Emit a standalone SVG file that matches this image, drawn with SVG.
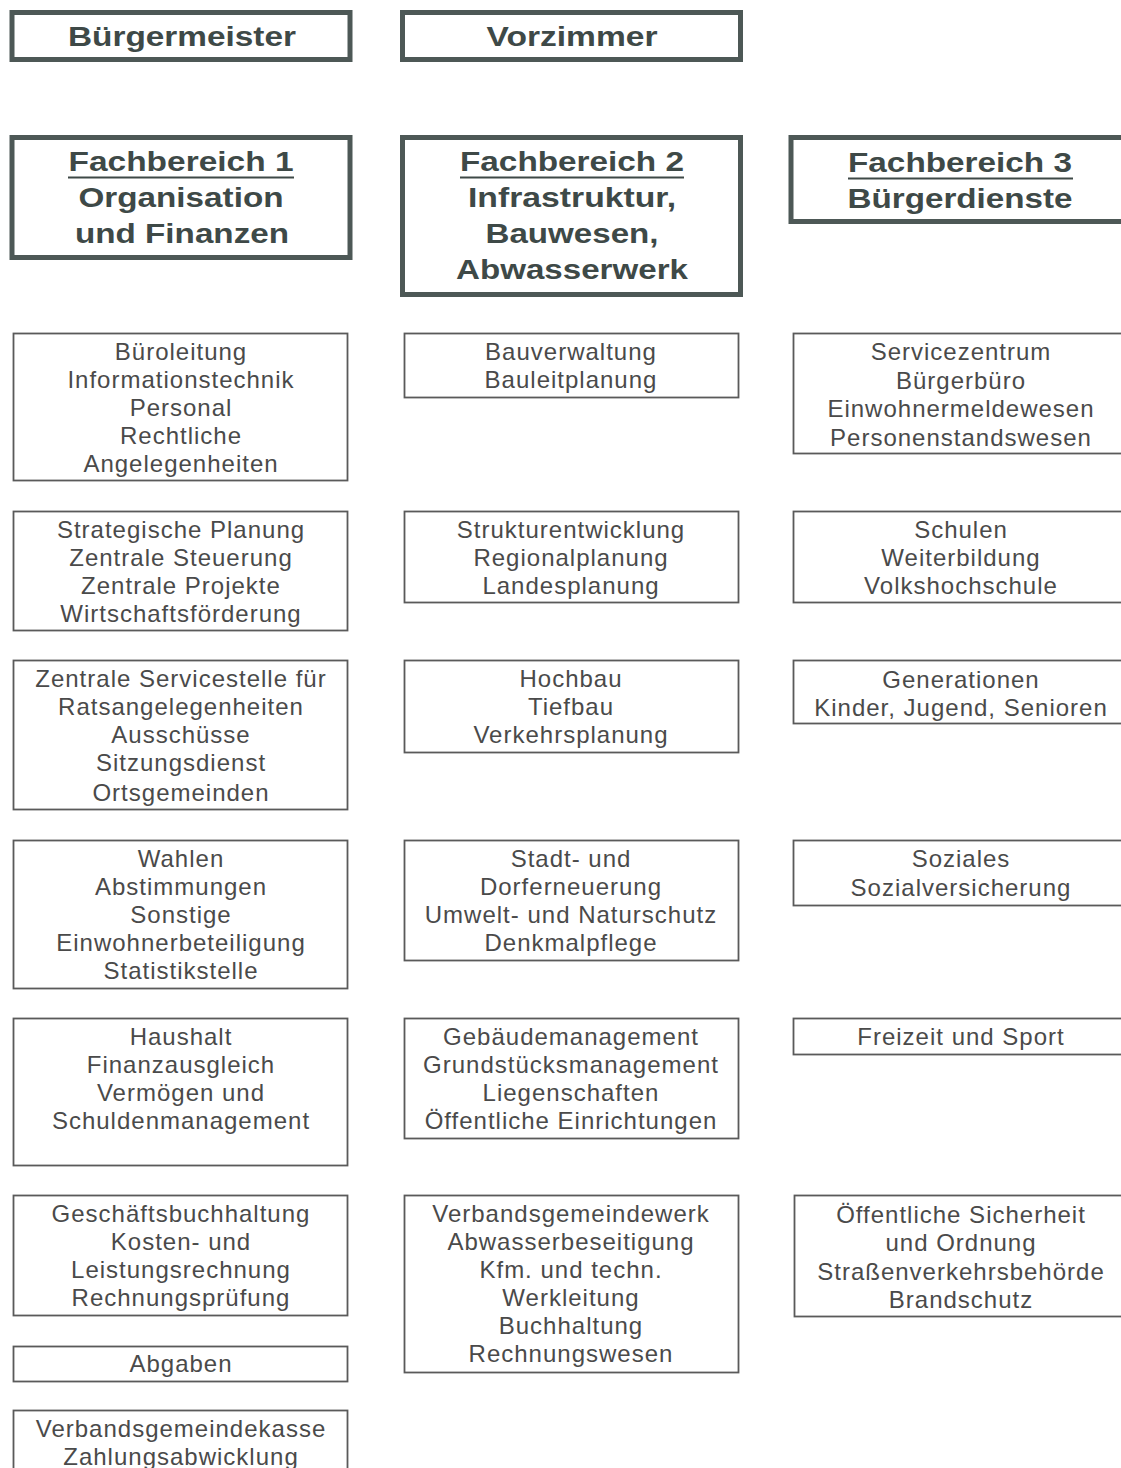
<svg xmlns="http://www.w3.org/2000/svg" width="1121" height="1468" viewBox="0 0 1121 1468">
<style>
.hb{fill:#fff;stroke:#4d5856;stroke-width:5}
.bb{fill:#fff;stroke:#5a5a5a;stroke-width:1.8}
.ht{font-family:"Liberation Sans",Arial,sans-serif;font-weight:bold;font-size:28px;fill:#3e4947;text-anchor:middle}
.bt{font-family:"Liberation Sans",Arial,sans-serif;font-size:24px;letter-spacing:1px;fill:#4a4a4a;text-anchor:middle}
.ul{stroke:#3e4947;stroke-width:2.2}
</style>
<rect width="1121" height="1468" fill="#fff"/>
<g id="buergermeister"><rect class="hb" x="12" y="12.5" width="338" height="47"/><text class="ht" x="182" y="46" textLength="228" lengthAdjust="spacingAndGlyphs">Bürgermeister</text></g>
<g id="vorzimmer"><rect class="hb" x="402.5" y="12.5" width="338" height="47"/><text class="ht" x="572" y="46" textLength="171" lengthAdjust="spacingAndGlyphs">Vorzimmer</text></g>
<g id="fb1"><rect class="hb" x="12" y="137.5" width="338" height="120"/>
<text class="ht" x="181" y="171" textLength="225" lengthAdjust="spacingAndGlyphs">Fachbereich 1</text><line class="ul" x1="68" y1="177.5" x2="294" y2="177.5"/>
<text class="ht" x="181" y="207" textLength="205" lengthAdjust="spacingAndGlyphs">Organisation</text><text class="ht" x="182" y="243" textLength="214" lengthAdjust="spacingAndGlyphs">und Finanzen</text></g>
<g id="fb2"><rect class="hb" x="402.5" y="137.5" width="338" height="157"/>
<text class="ht" x="572" y="171" textLength="224" lengthAdjust="spacingAndGlyphs">Fachbereich 2</text><line class="ul" x1="460" y1="177.5" x2="684" y2="177.5"/>
<text class="ht" x="572" y="207" textLength="208" lengthAdjust="spacingAndGlyphs">Infrastruktur,</text><text class="ht" x="572" y="243" textLength="173" lengthAdjust="spacingAndGlyphs">Bauwesen,</text><text class="ht" x="572" y="279" textLength="232" lengthAdjust="spacingAndGlyphs">Abwasserwerk</text></g>
<g id="fb3"><rect class="hb" x="791" y="137.5" width="345" height="84"/>
<text class="ht" x="960" y="172" textLength="224" lengthAdjust="spacingAndGlyphs">Fachbereich 3</text><line class="ul" x1="848" y1="178.5" x2="1073" y2="178.5"/>
<text class="ht" x="960" y="208" textLength="225" lengthAdjust="spacingAndGlyphs">Bürgerdienste</text></g>

<g id="c1b1"><rect class="bb" x="13.5" y="333.5" width="334" height="147"/>
<text class="bt" x="181" y="360">Büroleitung</text><text class="bt" x="181" y="388">Informationstechnik</text><text class="bt" x="181" y="416">Personal</text><text class="bt" x="181" y="444">Rechtliche</text><text class="bt" x="181" y="472">Angelegenheiten</text></g>
<g id="c1b2"><rect class="bb" x="13.5" y="511.5" width="334" height="119"/>
<text class="bt" x="181" y="538">Strategische Planung</text><text class="bt" x="181" y="566">Zentrale Steuerung</text><text class="bt" x="181" y="594">Zentrale Projekte</text><text class="bt" x="181" y="622">Wirtschaftsförderung</text></g>
<g id="c1b3"><rect class="bb" x="13.5" y="660.5" width="334" height="149"/>
<text class="bt" x="181" y="687">Zentrale Servicestelle für</text><text class="bt" x="181" y="715">Ratsangelegenheiten</text><text class="bt" x="181" y="743">Ausschüsse</text><text class="bt" x="181" y="771">Sitzungsdienst</text><text class="bt" x="181" y="801">Ortsgemeinden</text></g>
<g id="c1b4"><rect class="bb" x="13.5" y="840.5" width="334" height="148"/>
<text class="bt" x="181" y="867">Wahlen</text><text class="bt" x="181" y="895">Abstimmungen</text><text class="bt" x="181" y="923">Sonstige</text><text class="bt" x="181" y="951">Einwohnerbeteiligung</text><text class="bt" x="181" y="979">Statistikstelle</text></g>
<g id="c1b5"><rect class="bb" x="13.5" y="1018.5" width="334" height="147"/>
<text class="bt" x="181" y="1045">Haushalt</text><text class="bt" x="181" y="1073">Finanzausgleich</text><text class="bt" x="181" y="1101">Vermögen und</text><text class="bt" x="181" y="1129">Schuldenmanagement</text></g>
<g id="c1b6"><rect class="bb" x="13.5" y="1195.5" width="334" height="120"/>
<text class="bt" x="181" y="1222">Geschäftsbuchhaltung</text><text class="bt" x="181" y="1250">Kosten- und</text><text class="bt" x="181" y="1278">Leistungsrechnung</text><text class="bt" x="181" y="1306">Rechnungsprüfung</text></g>
<g id="c1b7"><rect class="bb" x="13.5" y="1346.5" width="334" height="35"/>
<text class="bt" x="181" y="1372">Abgaben</text></g>
<g id="c1b8"><rect class="bb" x="13.5" y="1410.5" width="334" height="80"/>
<text class="bt" x="181" y="1437">Verbandsgemeindekasse</text><text class="bt" x="181" y="1465">Zahlungsabwicklung</text></g>

<g id="c2b1"><rect class="bb" x="404.5" y="333.5" width="334" height="64"/>
<text class="bt" x="571" y="360">Bauverwaltung</text><text class="bt" x="571" y="388">Bauleitplanung</text></g>
<g id="c2b2"><rect class="bb" x="404.5" y="511.5" width="334" height="91"/>
<text class="bt" x="571" y="538">Strukturentwicklung</text><text class="bt" x="571" y="566">Regionalplanung</text><text class="bt" x="571" y="594">Landesplanung</text></g>
<g id="c2b3"><rect class="bb" x="404.5" y="660.5" width="334" height="92"/>
<text class="bt" x="571" y="687">Hochbau</text><text class="bt" x="571" y="715">Tiefbau</text><text class="bt" x="571" y="743">Verkehrsplanung</text></g>
<g id="c2b4"><rect class="bb" x="404.5" y="840.5" width="334" height="120"/>
<text class="bt" x="571" y="867">Stadt- und</text><text class="bt" x="571" y="895">Dorferneuerung</text><text class="bt" x="571" y="923">Umwelt- und Naturschutz</text><text class="bt" x="571" y="951">Denkmalpflege</text></g>
<g id="c2b5"><rect class="bb" x="404.5" y="1018.5" width="334" height="120"/>
<text class="bt" x="571" y="1045">Gebäudemanagement</text><text class="bt" x="571" y="1073">Grundstücksmanagement</text><text class="bt" x="571" y="1101">Liegenschaften</text><text class="bt" x="571" y="1129">Öffentliche Einrichtungen</text></g>
<g id="c2b6"><rect class="bb" x="404.5" y="1195.5" width="334" height="177"/>
<text class="bt" x="571" y="1222">Verbandsgemeindewerk</text><text class="bt" x="571" y="1250">Abwasserbeseitigung</text><text class="bt" x="571" y="1278">Kfm. und techn.</text><text class="bt" x="571" y="1306">Werkleitung</text><text class="bt" x="571" y="1334">Buchhaltung</text><text class="bt" x="571" y="1362">Rechnungswesen</text></g>

<g id="c3b1"><rect class="bb" x="793.5" y="333.5" width="340" height="120"/>
<text class="bt" x="961" y="360">Servicezentrum</text><text class="bt" x="961" y="389">Bürgerbüro</text><text class="bt" x="961" y="417">Einwohnermeldewesen</text><text class="bt" x="961" y="446">Personenstandswesen</text></g>
<g id="c3b2"><rect class="bb" x="793.5" y="511.5" width="340" height="91"/>
<text class="bt" x="961" y="538">Schulen</text><text class="bt" x="961" y="566">Weiterbildung</text><text class="bt" x="961" y="594">Volkshochschule</text></g>
<g id="c3b3"><rect class="bb" x="793.5" y="660.5" width="340" height="63"/>
<text class="bt" x="961" y="688">Generationen</text><text class="bt" x="961" y="716">Kinder, Jugend, Senioren</text></g>
<g id="c3b4"><rect class="bb" x="793.5" y="840.5" width="340" height="65"/>
<text class="bt" x="961" y="867">Soziales</text><text class="bt" x="961" y="896">Sozialversicherung</text></g>
<g id="c3b5"><rect class="bb" x="793.5" y="1018.5" width="340" height="36"/>
<text class="bt" x="961" y="1045">Freizeit und Sport</text></g>
<g id="c3b6"><rect class="bb" x="794.5" y="1195.5" width="340" height="121"/>
<text class="bt" x="961" y="1223">Öffentliche Sicherheit</text><text class="bt" x="961" y="1251">und Ordnung</text><text class="bt" x="961" y="1280">Straßenverkehrsbehörde</text><text class="bt" x="961" y="1308">Brandschutz</text></g>
<g id="connectors"></g>
</svg>
